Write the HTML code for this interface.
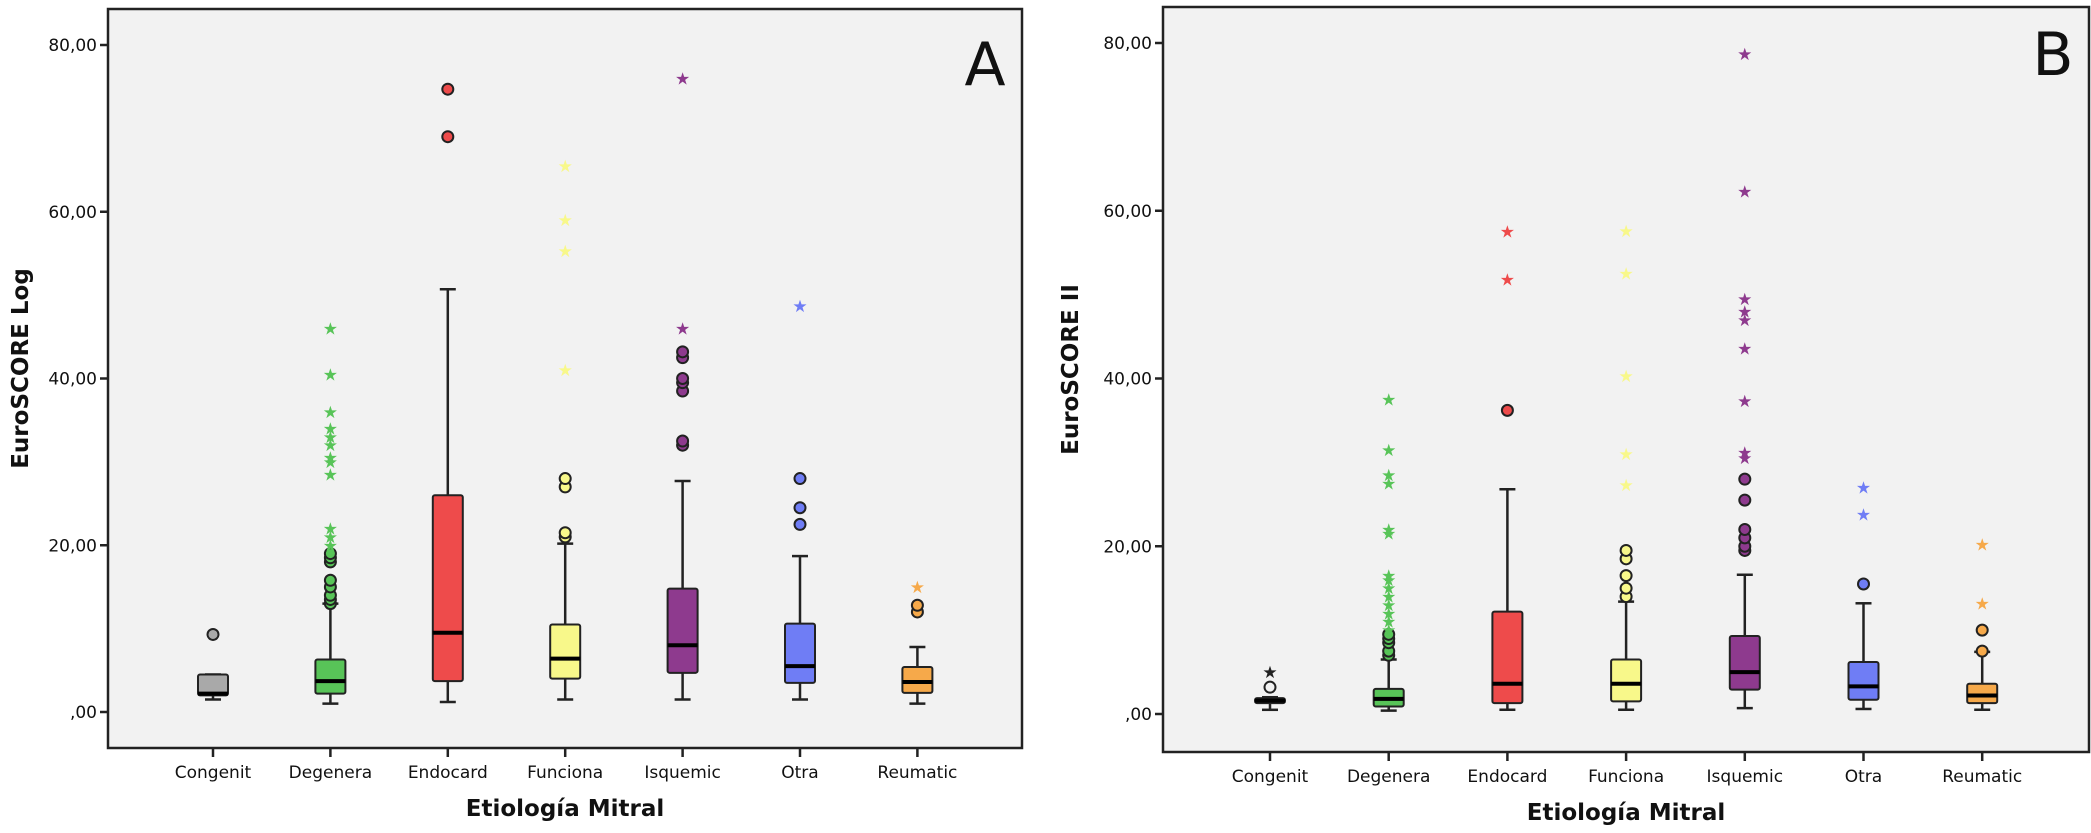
<!DOCTYPE html>
<html><head><meta charset="utf-8"><style>
html,body{margin:0;padding:0;background:#fff;width:2091px;height:833px;overflow:hidden}
svg text{font-family:"DejaVu Sans","Liberation Sans",sans-serif}
</style></head><body>
<svg id="chart" width="2091" height="833" xmlns="http://www.w3.org/2000/svg"></svg>
<script>
const categories = ["Congenit","Degenera","Endocard","Funciona","Isquemic","Otra","Reumatic"];
const colors = ["#a9a9a9","#58c458","#ee4b4b","#f8f88a","#8e3a8e","#6f7df5","#f6a94a"];
const yTicks = [0,20,40,60,80];
const yTickLabels = [",00","20,00","40,00","60,00","80,00"];
// Panel A: [low whisker, q1, median, q3, high whisker]
const statsA = [[1.5,2.0,2.2,4.5,4.5],[1.0,2.2,3.7,6.3,13],[1.2,3.7,9.5,26,50.7],[1.5,4.0,6.4,10.5,20.2],[1.5,4.7,8.0,14.8,27.7],[1.5,3.5,5.5,10.6,18.7],[1.0,2.3,3.6,5.4,7.8]];
const circlesA = [[9.3],[13,13.5,14,15,15.8,18,18.5,19],[69,74.7],[21,21.5,27,28],[32,32.5,38.5,39.5,40,42.5,43.2],[22.5,24.5,28],[12,12.8]];
const starsA = [[],[20,21,22,28.5,30,30.5,32,33,34,36,40.5,46],[],[41,55.3,59,65.5],[46,76],[48.7],[15]];
// Panel B
const statsB = [[0.5,1.3,1.6,1.9,2.0],[0.4,0.9,1.8,3.0,6.5],[0.5,1.3,3.6,12.2,26.8],[0.5,1.5,3.6,6.5,13.4],[0.7,2.9,5.0,9.3,16.6],[0.6,1.7,3.3,6.2,13.2],[0.5,1.3,2.2,3.6,7.4]];
const circlesB = [[3.2],[7,7.5,8.5,9,9.5],[36.2],[14,15,16.5,18.5,19.5],[19.5,20,21,22,25.5,28],[15.5],[7.5,10]];
const starsB = [[5],[10,11,12,13,14,15,16,16.5,21.5,22,27.5,28.5,31.5,37.5],[51.8,57.5],[27.3,31,40.3,52.5,57.6],[30.5,31.2,37.3,43.6,47,48,49.5,62.3,78.7],[23.8,27],[13.2,20.2]];

const NS="http://www.w3.org/2000/svg";
const svg=document.getElementById('chart');
function mk(tag,attrs,parent){const e=document.createElementNS(NS,tag);for(const k in attrs)e.setAttribute(k,attrs[k]);(parent||svg).appendChild(e);return e;}

function panel(p){
  const g=mk('g',{});
  
  
  const y=v=>p.y0+(p.y80-p.y0)*v/80;
  const x=i=>p.cx0+i*p.step;
  const bg=mk('rect',{x:p.left,y:p.top,width:p.right-p.left,height:p.bottom-p.top,fill:'#f2f2f2',stroke:'#222','stroke-width':2.5},g);
  
  
  yTicks.forEach((t,i)=>{
    mk('line',{x1:p.left-8,x2:p.left,y1:y(t),y2:y(t),stroke:'#222','stroke-width':2.5},g);
    const tx=mk('text',{x:p.left-11,y:y(t)+6,'text-anchor':'end','font-size':17,fill:'#111'},g);
    tx.textContent=yTickLabels[i];
    
    
  });
  categories.forEach((c,i)=>{
    const cx=x(i);
    mk('line',{x1:cx,x2:cx,y1:p.bottom,y2:p.bottom+9,stroke:'#222','stroke-width':2.5},g);
    const tl=mk('text',{x:cx,y:p.bottom+30,'text-anchor':'middle','font-size':17,fill:'#111'},g);
    tl.textContent=c;
    
    
    const s=p.stats[i];
    const bw=15;
    const box=mk('g',{},g);
    
    
    mk('line',{x1:cx,x2:cx,y1:y(s[0]),y2:y(s[1]),stroke:'#222','stroke-width':2.5},box);
    mk('line',{x1:cx,x2:cx,y1:y(s[3]),y2:y(s[4]),stroke:'#222','stroke-width':2.5},box);
    mk('line',{x1:cx-8,x2:cx+8,y1:y(s[0]),y2:y(s[0]),stroke:'#222','stroke-width':2.5},box);
    mk('line',{x1:cx-8,x2:cx+8,y1:y(s[4]),y2:y(s[4]),stroke:'#222','stroke-width':2.5},box);
    mk('rect',{x:cx-bw,y:y(s[3]),width:2*bw,height:Math.max(2,y(s[1])-y(s[3])),fill:colors[i],stroke:'#222','stroke-width':2,rx:2},box);
    mk('line',{x1:cx-bw,x2:cx+bw,y1:y(s[2]),y2:y(s[2]),stroke:'#000','stroke-width':4},box);
    p.circles[i].forEach(v=>{
      const o=mk('circle',{cx:cx,cy:y(v),r:5.5,fill:colors[i]==='#a9a9a9'&&p.name==='panel-b'?'#f2f2f2':colors[i],stroke:'#222','stroke-width':2},g);
      
      
    });
    p.stars[i].forEach(v=>{
      const st=mk('text',{x:cx,y:y(v)+6,'text-anchor':'middle','font-size':17,fill:(p.name==='panel-b'&&i===0)?'#222':colors[i]},g);
      st.textContent='★';
      
      
    });
  });
  const yt=mk('text',{x:0,y:0,'text-anchor':'middle','font-size':23,'font-weight':'bold',fill:'#111',transform:`translate(${p.ytx},${(p.top+p.bottom)/2-10}) rotate(-90)`},g);
  yt.textContent=p.ytitle;
  
  
  const xt=mk('text',{x:(p.left+p.right)/2,y:p.bottom+68,'text-anchor':'middle','font-size':23,'font-weight':'bold',fill:'#111'},g);
  xt.textContent='Etiología Mitral';
  
  
  const lt=mk('text',{x:p.letterX,y:p.letterY,'text-anchor':'middle','font-size':60,fill:'#111','font-family':'Liberation Sans, sans-serif'},g);
  lt.textContent=p.letter;
  
  
}
panel({name:'panel-a',left:108,right:1022,top:9,bottom:748,y0:712,y80:45,cx0:213,step:117.4,stats:statsA,circles:circlesA,stars:starsA,ytitle:'EuroSCORE Log',ytx:28,letter:'A',letterX:985,letterY:85});
panel({name:'panel-b',left:1163,right:2089,top:7,bottom:752,y0:714,y80:43,cx0:1270,step:118.7,stats:statsB,circles:circlesB,stars:starsB,ytitle:'EuroSCORE II',ytx:1078,letter:'B',letterX:2053,letterY:75});
</script>
</body></html>
